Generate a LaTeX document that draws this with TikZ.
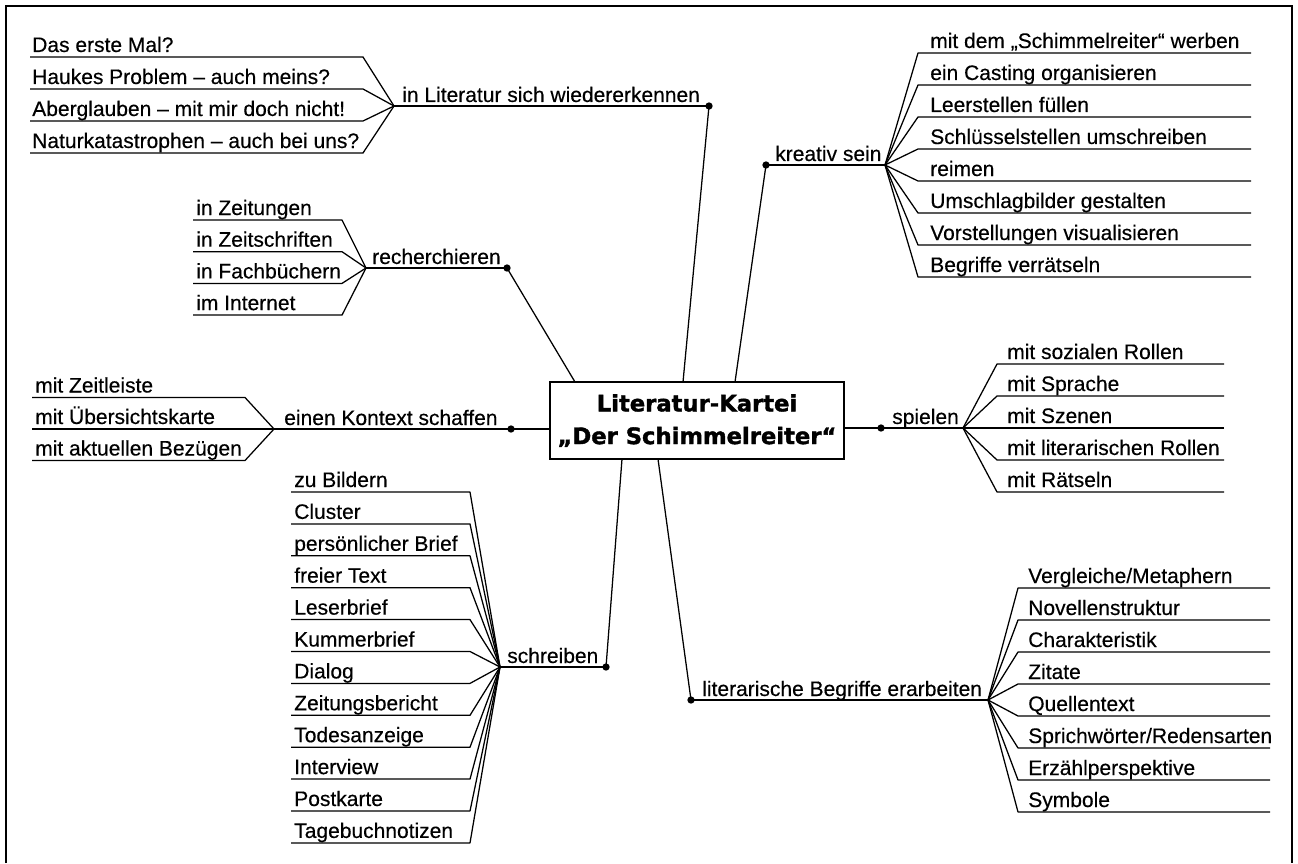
\documentclass[tikz,border=0pt]{standalone}
\usepackage{fontspec}
\setmainfont[FakeBold=0.35]{Liberation Sans}
\newfontfamily\titlefont[BoldFeatures={FakeBold=1.6}]{DejaVu Sans}
\begin{document}
\begin{tikzpicture}[x=0.75pt,y=-0.75pt,
  lbl/.style={anchor=base west, inner sep=0pt, font=\fontsize{15.75pt}{18pt}\selectfont},
  ln/.style={line width=0.95pt, line join=round},
  dotn/.style={circle, fill=black, inner sep=0pt, minimum size=5.5pt},
  titlebox/.style={draw, line width=1.2pt, minimum width=220.5pt, minimum height=57.75pt, align=center, inner sep=0pt,
     font=\titlefont\bfseries\fontsize{17pt}{24.5pt}\selectfont}
]
\useasboundingbox (0,0) rectangle (1298,863);
\draw[line width=1.1pt] (6,863) -- (6,6) -- (1292,6) -- (1292,863);

% central node
\node[titlebox] (center) at (697,420.5) {Literatur-Kartei\\„Der Schimmelreiter“};

% attachment points on the box
\coordinate (bLit) at (683,382);
\coordinate (bKre) at (735,382);
\coordinate (bRec) at (575,382);
\coordinate (bKon) at (550,429);
\coordinate (bSpi) at (844,428);
\coordinate (bSch) at (622,459);
\coordinate (bBeg) at (658,459);

% dots
\node[dotn] (dLit) at (709,106) {};
\node[dotn] (dKre) at (766,165) {};
\node[dotn] (dRec) at (507,268) {};
\node[dotn] (dKon) at (511,429) {};
\node[dotn] (dSpi) at (881,428) {};
\node[dotn] (dSch) at (606,667) {};
\node[dotn] (dBeg) at (691,700) {};

% hubs
\coordinate (hLit) at (394,106);
\coordinate (hKre) at (885,165);
\coordinate (hRec) at (366,268);
\coordinate (hKon) at (274,429);
\coordinate (hSpi) at (963,428);
\coordinate (hSch) at (500,667);
\coordinate (hBeg) at (988,700);

% connectors box -> dots -> hubs
\foreach \n in {Lit,Kre,Rec,Kon,Spi,Sch,Beg}{
  \draw[ln] (b\n) -- (d\n.center);
  \draw[ln] (d\n.center) -- (h\n);
}

% branch labels
\node[lbl] (tLit) at (402,102) {in Literatur sich wiedererkennen};
\node[lbl] (tKre) at (775,161) {kreativ sein};
\node[lbl] (tRec) at (372,264) {recherchieren};
\node[lbl] (tKon) at (284,425) {einen Kontext schaffen};
\node[lbl] (tSpi) at (892,424) {spielen};
\node[lbl] (tSch) at (507,663) {schreiben};
\node[lbl] (tBeg) at (702,696) {literarische Begriffe erarbeiten};

% group: Literatur
\foreach \t [count=\i] in {Das erste Mal?, Haukes Problem – auch meins?, Aberglauben – mit mir doch nicht!, Naturkatastrophen – auch bei uns?}{
  \pgfmathsetmacro\yy{57+32*(\i-1)}
  \coordinate (litA\i) at (30,\yy);
  \coordinate (litB\i) at (363,\yy);
  \node[lbl] (lit\i) at (32,\yy-5) {\t};
  \draw[ln] (litA\i) -- (litB\i) -- (hLit);
}

% group: recherchieren
\foreach \t [count=\i] in {in Zeitungen, in Zeitschriften, in Fachbüchern, im Internet}{
  \pgfmathsetmacro\yy{220+31.7*(\i-1)}
  \coordinate (recA\i) at (193,\yy);
  \coordinate (recB\i) at (342,\yy);
  \node[lbl] (rec\i) at (196,\yy-5) {\t};
  \draw[ln] (recA\i) -- (recB\i) -- (hRec);
}

% group: Kontext
\foreach \t [count=\i] in {mit Zeitleiste, mit Übersichtskarte, mit aktuellen Bezügen}{
  \pgfmathsetmacro\yy{397.5+31.5*(\i-1)}
  \coordinate (konA\i) at (32,\yy);
  \coordinate (konB\i) at (245,\yy);
  \node[lbl] (kon\i) at (35,\yy-5) {\t};
  \draw[ln] (konA\i) -- (konB\i) -- (hKon);
}

% group: schreiben
\foreach \t [count=\i] in {zu Bildern, Cluster, persönlicher Brief, freier Text, Leserbrief, Kummerbrief, Dialog, Zeitungsbericht, Todesanzeige, Interview, Postkarte, Tagebuchnotizen}{
  \pgfmathsetmacro\yy{492+31.9*(\i-1)}
  \coordinate (schA\i) at (291,\yy);
  \coordinate (schB\i) at (470,\yy);
  \node[lbl] (sch\i) at (294,\yy-5) {\t};
  \draw[ln] (schA\i) -- (schB\i) -- (hSch);
}

% group: kreativ sein
\foreach \t [count=\i] in {mit dem „Schimmelreiter“ werben, ein Casting organisieren, Leerstellen füllen, Schlüsselstellen umschreiben, reimen, Umschlagbilder gestalten, Vorstellungen visualisieren, Begriffe verrätseln}{
  \pgfmathsetmacro\yy{53+32*(\i-1)}
  \coordinate (kreA\i) at (1251,\yy);
  \coordinate (kreB\i) at (918,\yy);
  \node[lbl] (kre\i) at (930,\yy-5) {\t};
  \draw[ln] (kreA\i) -- (kreB\i) -- (hKre);
}

% group: spielen
\foreach \t [count=\i] in {mit sozialen Rollen, mit Sprache, mit Szenen, mit literarischen Rollen, mit Rätseln}{
  \pgfmathsetmacro\yy{364+32*(\i-1)}
  \coordinate (spiA\i) at (1224,\yy);
  \coordinate (spiB\i) at (997,\yy);
  \node[lbl] (spi\i) at (1007,\yy-5) {\t};
  \draw[ln] (spiA\i) -- (spiB\i) -- (hSpi);
}

% group: literarische Begriffe
\foreach \t [count=\i] in {Vergleiche/Metaphern, Novellenstruktur, Charakteristik, Zitate, Quellentext, Sprichwörter/Redensarten, Erzählperspektive, Symbole}{
  \pgfmathsetmacro\yy{588+32*(\i-1)}
  \coordinate (begA\i) at (1270,\yy);
  \coordinate (begB\i) at (1018,\yy);
  \node[lbl] (beg\i) at (1028,\yy-5) {\t};
  \draw[ln] (begA\i) -- (begB\i) -- (hBeg);
}
\end{tikzpicture}
\end{document}
